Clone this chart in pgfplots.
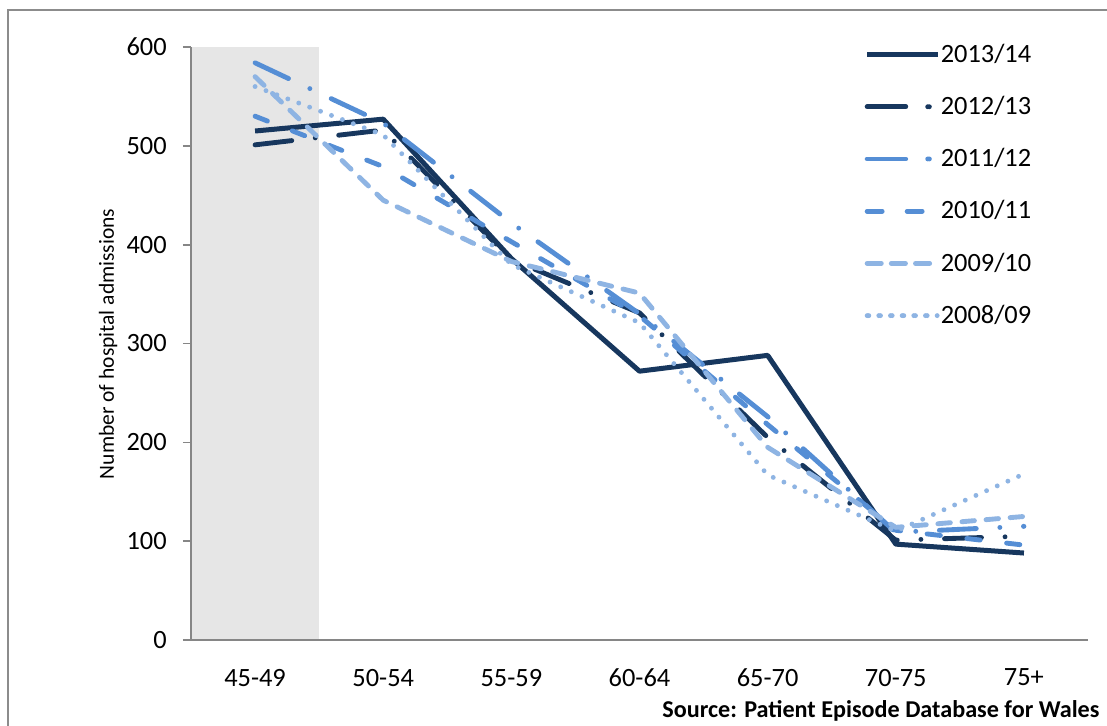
\documentclass[border=0pt]{standalone}
\usepackage{fontspec}
\setmainfont{Carlito}
\usepackage{pgfplots}
\pgfplotsset{compat=1.18}
\definecolor{navy}{HTML}{17375E}
\definecolor{mblue}{HTML}{558ED5}
\definecolor{lblue}{HTML}{8EB4E3}
\definecolor{band}{HTML}{E6E6E6}
\definecolor{axgray}{HTML}{868686}
\definecolor{framegray}{HTML}{8C8C8C}
\begin{document}
\begin{tikzpicture}
\useasboundingbox (0,0) rectangle (398.52pt,-261.36pt);
\fill[white] (0,0) rectangle (398.52pt,-261.36pt);
\draw[framegray, line width=0.5pt] (2.88pt,-261.36pt) -- (2.88pt,-3.6pt) -- (398.52pt,-3.6pt);
\begin{axis}[
  at={(68.76pt,-230.4pt)}, anchor=south west,
  scale only axis, width=322.92pt, height=213.48pt,
  xmin=-0.5, xmax=6.5, ymin=0, ymax=600,
  axis lines*=left,
  axis on top,
  axis line style={axgray, line width=0.6pt},
  xtick={0,...,6},
  xticklabels={45-49,50-54,55-59,60-64,65-70,70-75,75+},
  minor xtick={-0.5,0.5,...,6.5},
  ytick={0,100,...,600},
  tick align=outside,
  major tick length=2.9pt, minor tick length=2.9pt,
  xtick style={draw=none},
  minor x tick style={axgray, line width=0.6pt},
  ytick style={axgray, line width=0.6pt},
  tick label style={font=\fontsize{9.5}{11}\selectfont, black},
  /pgf/number format/assume math mode=true,
  xticklabel style={yshift=-4pt},
  yticklabel style={xshift=-2.3pt},
  legend style={at={(0.751,1.004)}, anchor=north west, draw=none, fill=none,
    inner sep=0pt, outer sep=0pt, row sep=11.3pt,
    font=\fontsize{9.5}{11}\selectfont,
    nodes={inner sep=0pt, text height=6.3pt, text depth=1.2pt}},
  legend cell align=left,
  legend image code/.code={\draw[#1] (0.6pt,0.2pt) -- (24pt,0.2pt); \path (0pt,0.2pt) -- (25.6pt,0.2pt);},
]
\addplot[fill=band, draw=none, forget plot] coordinates {(-0.5,600) (0.5,600)} \closedcycle;
\addplot[navy, line width=1.8pt, line join=round] coordinates {(0,515)(1,527)(2,386)(3,272)(4,288)(5,97)(6,88)};
\addlegendentry{2013/14}
\addplot[navy, line width=1.75pt, line cap=round, line join=round, dash pattern=on 13.3pt off 8.5pt on 0pt off 8.5pt] coordinates {(0,501)(1,516)(2,385)(3,331)(4,205)(5,101)(6,105)};
\addlegendentry{2012/13}
\addplot[mblue, line width=1.75pt, line cap=round, line join=round, dash pattern=on 13.3pt off 8.5pt on 0pt off 8.5pt] coordinates {(0,584)(1,523)(2,422)(3,330)(4,226)(5,109)(6,115)};
\addlegendentry{2011/12}
\addplot[mblue, line width=1.75pt, line cap=round, line join=round, dash pattern=on 4.8pt off 9.6pt] coordinates {(0,530)(1,479)(2,403)(3,328)(4,218)(5,111)(6,96)};
\addlegendentry{2010/11}
\addplot[lblue, line width=1.75pt, line cap=round, line join=round, dash pattern=on 4.5pt off 4.2pt] coordinates {(0,570)(1,445)(2,383)(3,351)(4,195)(5,114)(6,125)};
\addlegendentry{2009/10}
\addplot[lblue, line width=1.75pt, line cap=round, line join=round, dash pattern=on 0pt off 4.2pt] coordinates {(0,560)(1,511)(2,380)(3,321)(4,167)(5,110)(6,168)};
\addlegendentry{2008/09}
\end{axis}
\node[rotate=90, font=\fontsize{7.75}{9}\selectfont] at (38.9pt,-123.8pt) {Number of hospital admissions};
\node[anchor=east, font=\bfseries\fontsize{8.7}{10}\selectfont, inner sep=0pt] at (396pt,-256pt) {Source: Patient Episode Database for Wales};
\end{tikzpicture}
\end{document}
